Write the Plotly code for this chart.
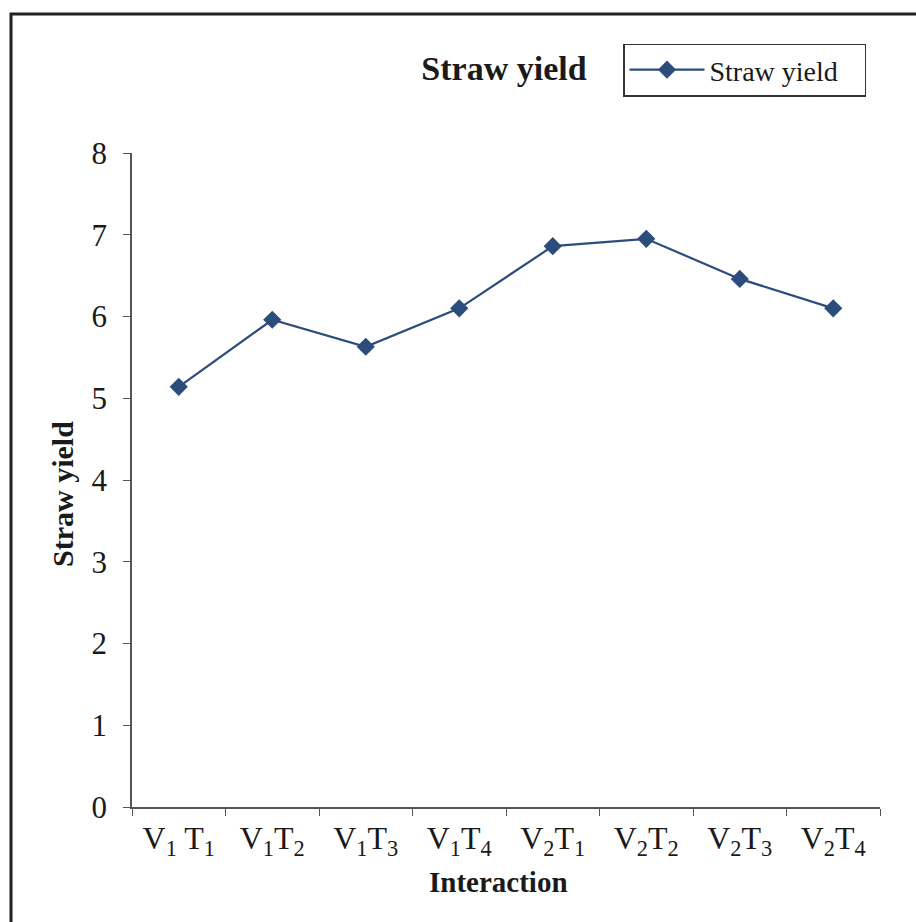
import plotly.graph_objects as go

# Interaction treatments (variety x treatment) and straw yield values
categories = ["V<sub>1</sub> T<sub>1</sub>", "V<sub>1</sub>T<sub>2</sub>", "V<sub>1</sub>T<sub>3</sub>",
              "V<sub>1</sub>T<sub>4</sub>", "V<sub>2</sub>T<sub>1</sub>", "V<sub>2</sub>T<sub>2</sub>",
              "V<sub>2</sub>T<sub>3</sub>", "V<sub>2</sub>T<sub>4</sub>"]
straw_yield = [5.14, 5.96, 5.63, 6.10, 6.86, 6.95, 6.46, 6.10]
y_ticks = [0, 1, 2, 3, 4, 5, 6, 7, 8]

serif = "Liberation Serif, Times New Roman, serif"
ink = "#1a1a1a"
line_color = "#2C4C7C"

fig = go.Figure()
fig.add_trace(go.Scatter(
    x=categories, y=straw_yield, mode="lines+markers", name="Straw yield",
    line=dict(color=line_color, width=2.2),
    marker=dict(symbol="diamond", size=14, color=line_color),
))

L, R, T, B = 132, 36, 153, 115
W, H = 916, 922
pw, ph = W - L - R, H - T - B

def px_x(p):
    return (p - L) / pw

def px_y(p):
    return (H - B - p) / ph

fig.update_layout(
    width=W, height=H,
    margin=dict(l=L, r=R, t=T, b=B, autoexpand=False),
    paper_bgcolor="white", plot_bgcolor="white",
    font=dict(family=serif, color=ink),
    title=dict(text="<b>Straw yield</b>", font=dict(size=34, family=serif, color=ink),
               x=504 / W, xanchor="center", y=1 - 68 / H, yanchor="middle"),
    showlegend=True,
    legend=dict(x=px_x(623), y=px_y(70), xanchor="left", yanchor="middle",
                orientation="h", entrywidth=150, entrywidthmode="pixels",
                bordercolor="#333333", borderwidth=1.5, bgcolor="white",
                font=dict(size=28, family=serif, color=ink),
                itemwidth=75, tracegroupgap=0),
    xaxis=dict(
        type="category", range=[-0.5, 7.5], tickson="boundaries",
        showline=True, linecolor="#555555", linewidth=1.5,
        ticks="outside", ticklen=7, tickcolor="#555555", tickwidth=1.2,
        showgrid=False, zeroline=False,
        tickfont=dict(size=32, family=serif, color=ink),
        ticklabelstandoff=2,
    ),
    yaxis=dict(
        range=[0, 8], tickvals=y_ticks,
        showline=True, linecolor="#555555", linewidth=1.5,
        ticks="outside", ticklen=7, tickcolor="#555555", tickwidth=1.2,
        showgrid=False, zeroline=False,
        tickfont=dict(size=31, family=serif, color=ink),
        ticklabelstandoff=10,
    ),
    annotations=[
        dict(text="<b>Interaction</b>", xref="paper", yref="paper",
             x=px_x(498), y=px_y(882), xanchor="center", yanchor="middle",
             showarrow=False, font=dict(size=29, family=serif, color=ink)),
        dict(text="<b>Straw yield</b>", xref="paper", yref="paper", textangle=-90,
             x=px_x(62), y=px_y(494), xanchor="center", yanchor="middle",
             showarrow=False, font=dict(size=30, family=serif, color=ink)),
    ],
    shapes=[dict(type="rect", xref="paper", yref="paper",
                 x0=px_x(11), x1=px_x(925), y0=px_y(930), y1=px_y(14),
                 line=dict(color="#222222", width=3), fillcolor="rgba(0,0,0,0)", layer="below")],
)

fig.write_html("out.html")
